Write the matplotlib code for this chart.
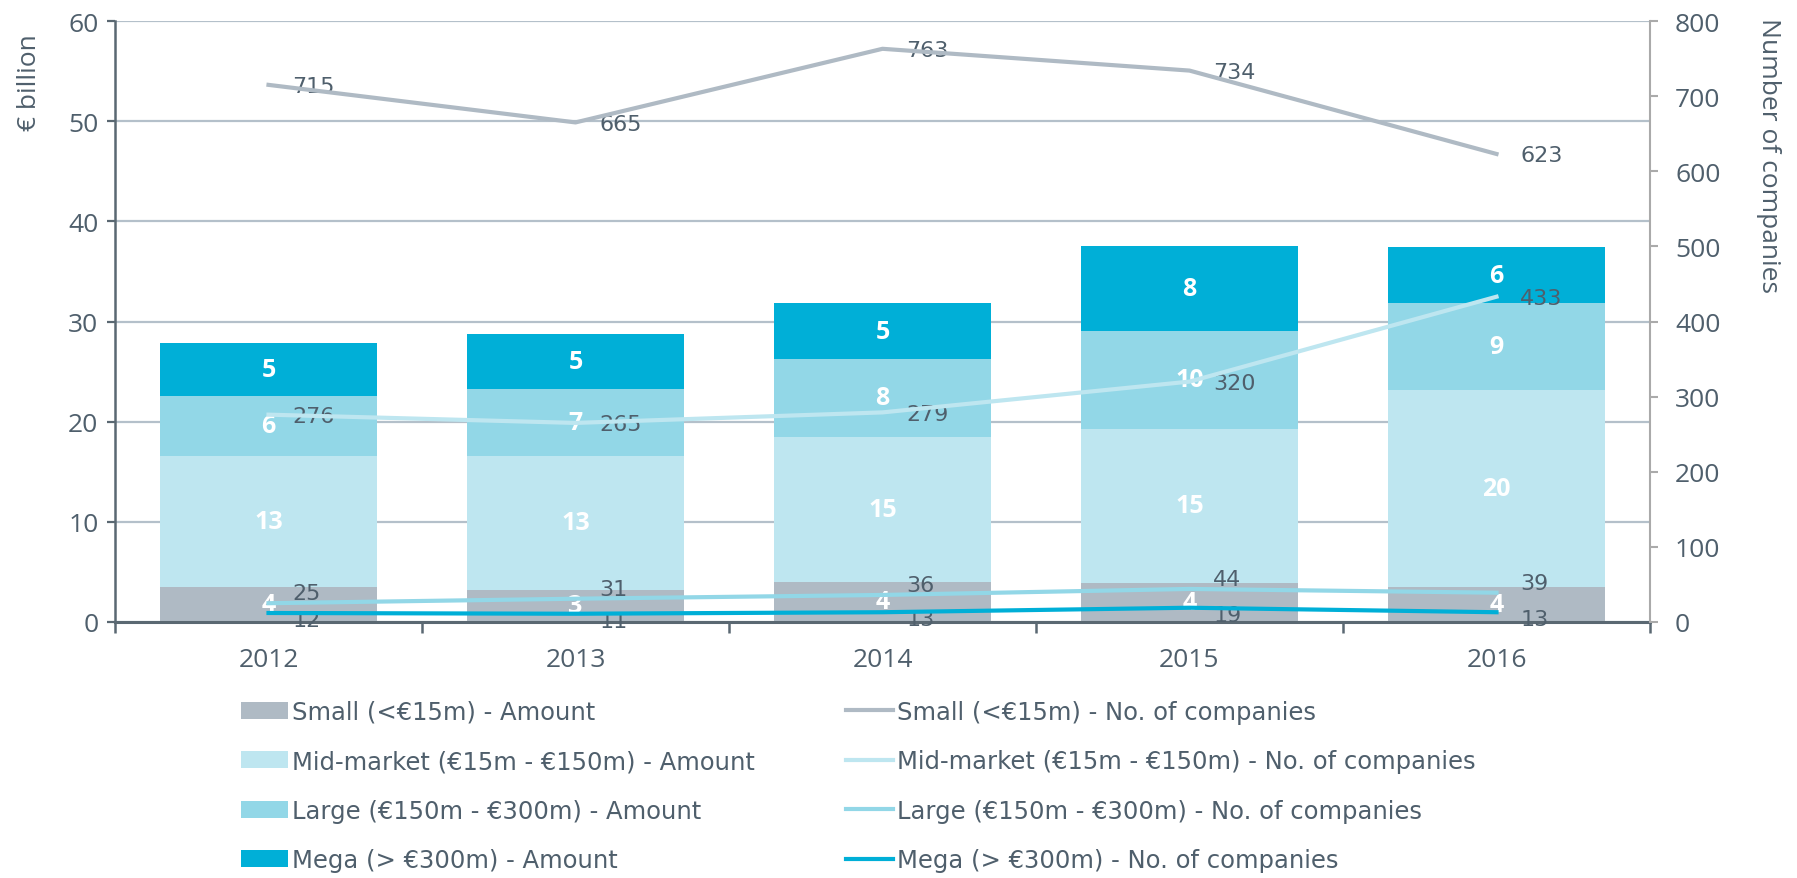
import matplotlib
matplotlib.use("Agg")
import matplotlib.pyplot as plt
import numpy as np

years = ['2012', '2013', '2014', '2015', '2016']

# amounts (EUR billion) - stacked bars
small_amt = [3.5, 3.2, 4.0, 3.9, 3.5]
mid_amt = [13.1, 13.4, 14.5, 15.4, 19.7]
large_amt = [6.0, 6.7, 7.8, 9.8, 8.6]
mega_amt = [5.3, 5.5, 5.5, 8.4, 5.6]

# labels shown on bar segments
small_lbl = [4, 3, 4, 4, 4]
mid_lbl = [13, 13, 15, 15, 20]
large_lbl = [6, 7, 8, 10, 9]
mega_lbl = [5, 5, 5, 8, 6]

# number of companies - lines
small_n = [715, 665, 763, 734, 623]
mid_n = [276, 265, 279, 320, 433]
large_n = [25, 31, 36, 44, 39]
mega_n = [12, 11, 13, 19, 13]

c_small = '#afbac4'
c_mid = '#bee6f0'
c_large = '#92d7e7'
c_mega = '#00afd7'
c_text = '#4f5f6c'
c_grid = '#b4c0ca'

narrow = ['Liberation Sans Narrow', 'DejaVu Sans']
plt.rcParams['font.family'] = ['Open Sans', 'DejaVu Sans']

fig = plt.figure(figsize=(17.97, 8.79), dpi=100)
ax = fig.add_axes([115 / 1797, 1 - 623 / 879, (1650 - 115) / 1797, (623 - 22) / 879])
ax2 = ax.twinx()

x = np.arange(len(years))
w = 0.71
segs = [(small_amt, small_lbl, c_small), (mid_amt, mid_lbl, c_mid),
        (large_amt, large_lbl, c_large), (mega_amt, mega_lbl, c_mega)]
bottom = np.zeros(len(years))
bar_handles = []
for vals, lbls, col in segs:
    b = ax.bar(x, vals, w, bottom=bottom, color=col, zorder=2)
    bar_handles.append(b)
    for i in range(len(years)):
        ax.text(x[i], bottom[i] + vals[i] / 2, str(lbls[i]), ha='center', va='center',
                color='white', fontsize=18, fontweight='bold', zorder=5)
    bottom = bottom + np.array(vals)

ax.set_ylim(0, 60)
ax.set_xlim(-0.5, len(years) - 0.5)
ax.set_yticks(range(0, 61, 10))
ax.yaxis.grid(True, color=c_grid, linewidth=1.6, zorder=0)
ax.set_axisbelow(True)
ax.set_xticks(x)
ax.set_xticklabels(years)
ax.tick_params(axis='x', length=0, pad=18, labelsize=19, colors=c_text)
ax.set_xticks(np.arange(-0.5, len(years), 1), minor=True)
ax.tick_params(axis='x', which='minor', length=8, width=1.8, color='#5a6872', direction='out')
ax.tick_params(axis='y', length=6, width=1.6, color='#5a6872', labelsize=19, labelcolor=c_text, pad=6)
for s in ['top', 'right']:
    ax.spines[s].set_visible(False)
ax.spines['left'].set_color('#5a6872')
ax.spines['left'].set_linewidth(1.8)
ax.spines['bottom'].set_color('#5a6872')
ax.spines['bottom'].set_linewidth(2.2)

line_specs = [(small_n, c_small, -1), (mid_n, c_mid, -1), (large_n, c_large, 7), (mega_n, c_mega, -5)]
line_handles = []
for vals, col, dy in line_specs:
    l, = ax2.plot(x, vals, color=col, linewidth=3, zorder=4)
    line_handles.append(l)
    for i in range(len(years)):
        ax2.annotate(str(vals[i]), (x[i], vals[i]), xytext=(17, dy), textcoords='offset points',
                     ha='left', va='center', fontsize=16, color=c_text, family=narrow)

ax2.set_ylim(0, 800)
ax2.set_yticks(range(0, 801, 100))
for s in ['top', 'left', 'bottom']:
    ax2.spines[s].set_visible(False)
ax2.spines['right'].set_color('#aaaaaa')
ax2.spines['right'].set_linewidth(1.5)
ax2.tick_params(axis='y', length=6, width=1.5, color='#aaaaaa', labelsize=19, labelcolor=c_text, pad=12)

# axis titles sit at the top of each axis
fig.text(30 / 1797, 1 - 34 / 879, '€ billion', rotation=90, ha='center', va='top',
         fontsize=19, color=c_text)
fig.text(1768 / 1797, 1 - 18 / 879, 'Number of companies', rotation=270, ha='center', va='top',
         fontsize=19, color=c_text)

labels = ['Small (<€15m) - Amount', 'Mid-market (€15m - €150m) - Amount',
          'Large (€150m - €300m) - Amount', 'Mega (> €300m) - Amount',
          'Small (<€15m) - No. of companies', 'Mid-market (€15m - €150m) - No. of companies',
          'Large (€150m - €300m) - No. of companies', 'Mega (> €300m) - No. of companies']
leg = fig.legend(bar_handles + line_handles, labels, loc='upper left',
                 bbox_to_anchor=(219 / 1797, 1 - 679 / 879), ncol=2, frameon=False,
                 prop={'family': narrow, 'size': 17.5}, labelcolor=c_text,
                 handlelength=1.95, handleheight=0.7, handletextpad=0.15,
                 columnspacing=3.75, labelspacing=1.05)

fig.savefig('out.png', dpi=100)
